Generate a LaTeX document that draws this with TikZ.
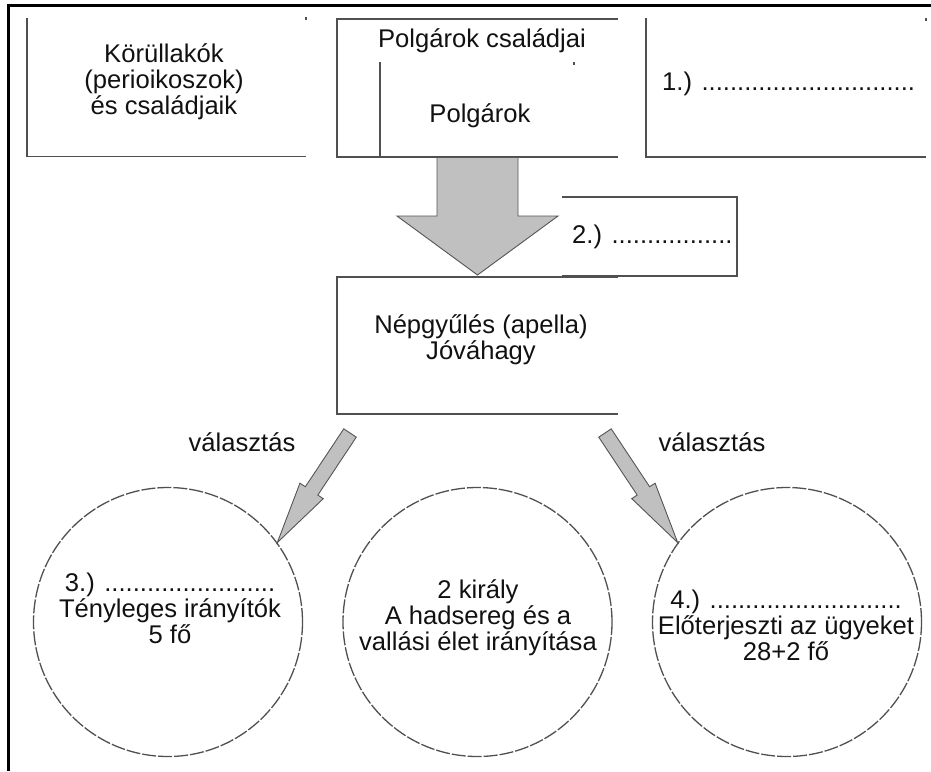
\documentclass[tikz,border=0pt]{standalone}
\usepackage{fontspec}
\setmainfont{Liberation Sans}
\usetikzlibrary{calc}
\definecolor{boxline}{HTML}{505050}
\definecolor{arrowfill}{HTML}{C0C0C0}
\definecolor{arrowline}{HTML}{555555}
\definecolor{txtcol}{HTML}{111111}
\newcommand{\blkarrow}[5]{%
  \coordinate (ba-h) at ($(#2)!#5!(#1)$);
  \filldraw[arrowshape] ($(#1)!#3!90:(#2)$) -- ($(ba-h)!#3!90:(#2)$) -- ($(ba-h)!#4!90:(#2)$) -- (#2)
    -- ($(ba-h)!#4!-90:(#2)$) -- ($(ba-h)!#3!-90:(#2)$) -- ($(#1)!#3!-90:(#2)$) -- cycle;
}
\begin{document}
\begin{tikzpicture}[x=1pt,y=-1pt,
  ln/.style={draw=boxline,line width=1.6pt},
  frameline/.style={draw=black,line width=3pt},
  arrowshape/.style={fill=arrowfill,draw=arrowline,line width=0.9pt,line join=miter},
  circ/.style={circle,draw=boxline,line width=1.3pt,dash pattern=on 14pt off 2pt,minimum size=269pt,inner sep=0pt},
  txt/.style={text=txtcol,font=\fontsize{25.6}{26}\selectfont,inner sep=0pt,align=center}
]
\useasboundingbox (0,0) rectangle (931,771);
% outer frame
\draw[frameline] (8.5,771) -- (8.5,5) -- (931,5);
% top boxes
\draw[ln] (27,18) -- (27,156.5) -- (306,156.5);
\draw[ln] (306,17) -- (306,20);
\draw[ln] (618,19) -- (337,19) -- (337,157) -- (618,157);
\draw[ln] (380,62) -- (380,157);
\draw[ln] (574,62) -- (574,65);
\draw[ln] (646,18) -- (646,157) -- (926,157);
\draw[ln] (926,18) -- (926,21);
% box 2.)
\draw[ln] (562,197) -- (737,197) -- (737,276) -- (562,276);
% Népgyűlés box
\draw[ln] (618,277) -- (337,277) -- (337,414) -- (618,414);
% texts
\node[txt] (kor) at (164,82) {Körüllakók\\(perioikoszok)\\és családjaik};
\node[txt] (pcs) at (482,41) {Polgárok családjai};
\node[txt] (pol) at (480,116) {Polgárok};
\node[txt,anchor=west] (e1) at (662,84) {1.) ..............................};
\node[txt,anchor=west] (e2) at (572,237) {2.) .................};
\node[txt] (nep) at (481,340) {Népgyűlés (apella)\\Jóváhagy};
\node[txt] (v1) at (242,442) {választás};
\node[txt] (v2) at (712,442) {választás};
% circles
\node[circ] (c1) at (168,622) {};
\node[circ] (c2) at (477.5,622) {};
\node[circ] (c3) at (787,622) {};
\node[txt] (t1) at (170,608) {3.) ........................\\Tényleges irányítók\\5 fő};
\node[txt] (t2) at (478,618) {2 király\\A hadsereg és a\\vallási élet irányítása};
\node[txt] (t3) at (786,625) {4.) ...........................\\Előterjeszti az ügyeket\\28+2 fő};
% arrows
\coordinate (bigtail) at (477.5,157.5);
\coordinate (bigtip) at (477.5,275);
\blkarrow{bigtail}{bigtip}{40.5pt}{80.5pt}{59pt}
\coordinate (ltail) at (350,433);
\coordinate (rtail) at (605,433);
\blkarrow{ltail}{c1.36}{7.5pt}{14pt}{62pt}
\blkarrow{rtail}{c3.144}{7.5pt}{14pt}{62pt}
\end{tikzpicture}
\end{document}
